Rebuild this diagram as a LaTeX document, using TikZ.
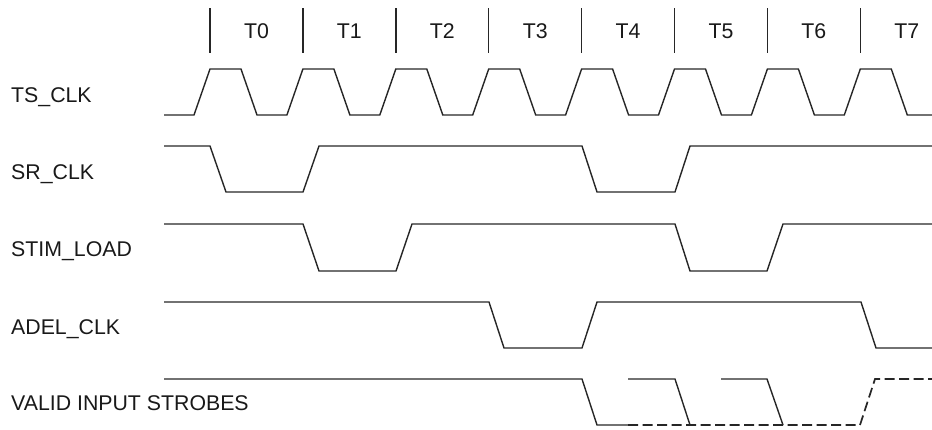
\documentclass[tikz,border=0pt]{standalone}
\usepackage{fontspec}
\setmainfont{Liberation Sans}
\usepackage{tikz}

\begin{document}
\begin{tikzpicture}[
		x=1pt,y=-1pt,
		every node/.style={font=\fontsize{21.3}{25}\selectfont, inner sep=0pt},
		wave/.style={line width=1.4pt, line join=miter, color=black!85},
		wavedash/.style={wave, line width=1.7pt, dash pattern=on 10pt off 4.5pt},
		tickline/.style={line width=1.4pt, color=black!85},
		siglabel/.style={anchor=base west, text=black!90}
		]
		
		\useasboundingbox (0,0) rectangle (932,429);
		
		% =========================
		% Top: period ticks
		% =========================
		\foreach \i in {0,...,7} {
			\pgfmathsetmacro{\tx}{210+92.9*\i}
			\draw[tickline] (\tx,8) -- (\tx,53);
			\node[anchor=base, text=black!90] (per\i) at (\tx+46.5,38.3) {T\i};
		}
		
		% =========================
		% Left: signal names
		% =========================
		\node[siglabel] (tsclk)  at (11,102.7) {TS\_CLK};
		\node[siglabel] (srclk)  at (11,179.3) {SR\_CLK};
		\node[siglabel] (stim)   at (11,256.7) {STIM\_LOAD};
		\node[siglabel] (adel)   at (11,334.0) {ADEL\_CLK};
		\node[siglabel] (valid)  at (11,410.0) {VALID INPUT STROBES};
		
		% =========================
		% Waveforms
		% =========================
		% TS_CLK
		\draw[wave] (164,115)
			\foreach \i in {0,...,7} {
				-- ({210+92.9*\i-16},115) -- ({210+92.9*\i},69)
				-- ({210+92.9*\i+31},69) -- ({210+92.9*\i+47},115)
			} -- (932,115);
		
		% SR_CLK
		\draw[wave] (164,146) -- (210,146) -- (226,192) -- (303,192) -- (319,146)
			-- (582,146) -- (597,192) -- (675,192) -- (690,146) -- (932,146);
		
		% STIM_LOAD
		\draw[wave] (164,224) -- (303,224) -- (319,271) -- (396,271) -- (412,224)
			-- (675,224) -- (690,271) -- (767,271) -- (783,224) -- (932,224);
		
		% ADEL_CLK
		\draw[wave] (164,302) -- (489,302) -- (504,348) -- (582,348) -- (597,302)
			-- (861,302) -- (876,348) -- (932,348);
		
		% VALID INPUT STROBES
		\draw[wave] (164,379) -- (582,379) -- (597,425) -- (628,425);
		\draw[wavedash] (628,425) -- (860,425) -- (875,379) -- (932,379);
		\draw[wave] (628,379) -- (675,379) -- (690,425);
		\draw[wave] (721,379) -- (767,379) -- (783,425);
		
	\end{tikzpicture}
\end{document}
